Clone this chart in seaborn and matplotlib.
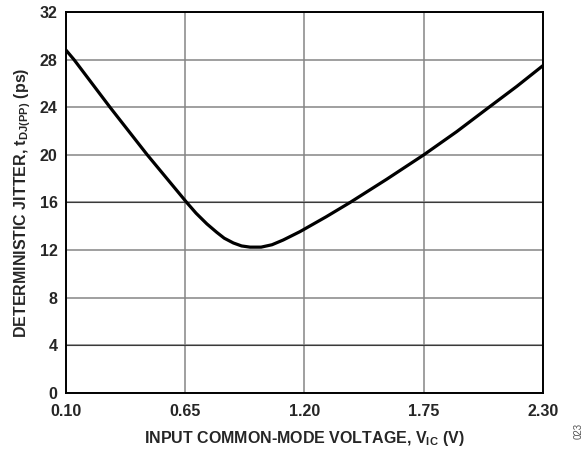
import matplotlib
matplotlib.use("Agg")
import matplotlib.pyplot as plt
import seaborn as sns
import pandas as pd

# curve
vic = [0.10, 0.137, 0.303, 0.475, 0.657, 0.70, 0.75, 0.795, 0.83, 0.872, 0.91, 0.949, 1.00,
       1.05, 1.102, 1.179, 1.30, 1.41, 1.579, 1.75, 1.902, 2.04, 2.179, 2.30]
jitter = [28.8, 28.0, 24.0, 20.0, 16.0, 15.1, 14.2, 13.5, 13.0, 12.6, 12.35, 12.25, 12.25,
          12.45, 12.85, 13.55, 14.8, 16.0, 17.95, 20.0, 21.95, 23.85, 25.75, 27.5]
xticks = [0.10, 0.65, 1.20, 1.75, 2.30]
yticks = [0, 4, 8, 12, 16, 20, 24, 28, 32]
dark_grid = [4, 16]

df = pd.DataFrame({"vic": vic, "jitter": jitter})

sns.set_style("white")
plt.rcParams['font.family'] = ['Liberation Sans', 'DejaVu Sans']
plt.rcParams['font.weight'] = 'bold'
plt.rcParams['mathtext.fontset'] = 'custom'
plt.rcParams['mathtext.rm'] = 'Liberation Sans:bold'
plt.rcParams['mathtext.it'] = 'Liberation Sans:bold'
plt.rcParams['mathtext.bf'] = 'Liberation Sans:bold'

fig = plt.figure(figsize=(5.87, 4.53), dpi=100)
ax = fig.add_axes([0.1124, 0.1325, 0.8126, 0.841])

sns.lineplot(data=df, x="vic", y="jitter", ax=ax, color="black", linewidth=2.3, zorder=3)

ax.set_xlim(0.10, 2.30)
ax.set_ylim(0, 32)
ax.set_xticks(xticks)
ax.set_xticklabels([f"{t:.2f}" for t in xticks])
ax.set_yticks(yticks)
ax.tick_params(length=0, labelsize=11.5)
ax.tick_params(axis='x', pad=8)
ax.tick_params(axis='y', pad=6)
for lab in ax.get_xticklabels() + ax.get_yticklabels():
    lab.set_fontweight('bold')
ax.grid(True, color="#858585", linewidth=1.1)
for v in dark_grid:
    ax.axhline(v, color="#3a3a3a", linewidth=0.8, zorder=1)
for s in ax.spines.values():
    s.set_color("black")
    s.set_linewidth(1.4)

ax.set_xlabel(r"INPUT COMMON-MODE VOLTAGE, V$_\mathrm{IC}$ (V)", fontsize=11.5, fontweight='bold', labelpad=7)
ax.set_ylabel(r"DETERMINISTIC JITTER, t$_\mathrm{DJ(PP)}$ (ps)", fontsize=11.5, fontweight='bold', labelpad=5)

fig.text(0.985, 0.03, "023", rotation=90, fontsize=7, color="#555555", ha="center", va="bottom", fontweight='normal')

fig.savefig("out.png", dpi=100)
